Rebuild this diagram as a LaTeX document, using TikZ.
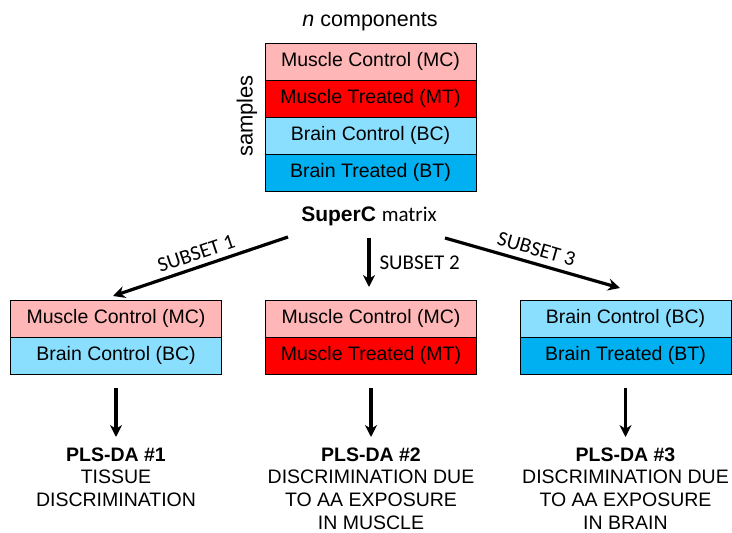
\documentclass[tikz,border=0pt]{standalone}
\usepackage{fontspec}
\setmainfont{Liberation Sans}
\newfontfamily\calfont{Carlito}
\usetikzlibrary{arrows.meta,positioning}
\definecolor{mcpink}{HTML}{FFB6B6}
\definecolor{mtred}{HTML}{FF0000}
\definecolor{bclight}{HTML}{8ADFFF}
\definecolor{btblue}{HTML}{00B0F0}
\tikzset{
  rowbox/.style={draw=black,line width=1pt,minimum width=211pt,minimum height=37pt,
    inner sep=0pt,outer sep=0pt,font=\fontsize{19.5}{23}\selectfont},
  arr/.style={-{Stealth[length=12pt,width=12pt]},line width=3.2pt},
  plslabel/.style={align=center,anchor=north,font=\fontsize{19.5}{22.7}\selectfont},
  subsetlbl/.style={font=\calfont\fontsize{21}{24}\selectfont,inner sep=5pt}
}

\begin{document}
\begin{tikzpicture}[x=1pt,y=-1pt]
\useasboundingbox (0,0) rectangle (732,533);
% SuperC matrix
\node[font=\fontsize{21.5}{24}\selectfont] (title) at (370,22) {\textit{n} components};
\node[rowbox,fill=mcpink] (mc) at (370.5,61.5) {Muscle Control (MC)};
\node[rowbox,fill=mtred,below=0pt of mc] (mt) {Muscle Treated (MT)};
\node[rowbox,fill=bclight,below=0pt of mt] (bc) {Brain Control (BC)};
\node[rowbox,fill=btblue,below=0pt of bc] (bt) {Brain Treated (BT)};
\node[rotate=90,font=\fontsize{22}{24}\selectfont] (samples) at (247,116) {samples};
\node[font=\fontsize{21}{24}\selectfont] (super) at (369,216) {\textbf{SuperC} {\calfont matrix}};
% subsets
\node[rowbox,fill=mcpink] (sub1a) at (116,318.5) {Muscle Control (MC)};
\node[rowbox,fill=bclight,below=0pt of sub1a] (sub1b) {Brain Control (BC)};
\node[rowbox,fill=mcpink] (sub2a) at (371,318.5) {Muscle Control (MC)};
\node[rowbox,fill=mtred,below=0pt of sub2a] (sub2b) {Muscle Treated (MT)};
\node[rowbox,fill=bclight] (sub3a) at (625.5,318.5) {Brain Control (BC)};
\node[rowbox,fill=btblue,below=0pt of sub3a] (sub3b) {Brain Treated (BT)};
\coordinate (s1) at (288,237); \coordinate (t1) at (113,296);
\coordinate (s2) at (369,238); \coordinate (t2) at (369,287);
\coordinate (s3) at (445,238); \coordinate (t3) at (620,288);
\draw[arr] (s1) -- (t1) node[subsetlbl,midway,above,sloped] (lbl1) {SUBSET 1};
\draw[arr] (s2) -- (t2) node[subsetlbl,midway,right,inner sep=9pt] (lbl2) {SUBSET 2};
\draw[arr] (s3) -- (t3) node[subsetlbl,midway,above,sloped,inner sep=6pt] (lbl3) {SUBSET 3};
% PLS-DA models
\node[plslabel] (pls1) at (116,444) {\textbf{PLS-DA \#1}\\TISSUE\\DISCRIMINATION};
\node[plslabel] (pls2) at (371,444) {\textbf{PLS-DA \#2}\\DISCRIMINATION DUE\\TO AA EXPOSURE\\IN MUSCLE};
\node[plslabel] (pls3) at (625.5,444) {\textbf{PLS-DA \#3}\\DISCRIMINATION DUE\\TO AA EXPOSURE\\IN BRAIN};
\draw[arr,shorten <=14pt,shorten >=7pt] (sub1b.south) -- (pls1.north);
\draw[arr,shorten <=14pt,shorten >=7pt] (sub2b.south) -- (pls2.north);
\draw[arr,shorten <=14pt,shorten >=7pt] (sub3b.south) -- (pls3.north);
\end{tikzpicture}
\end{document}
